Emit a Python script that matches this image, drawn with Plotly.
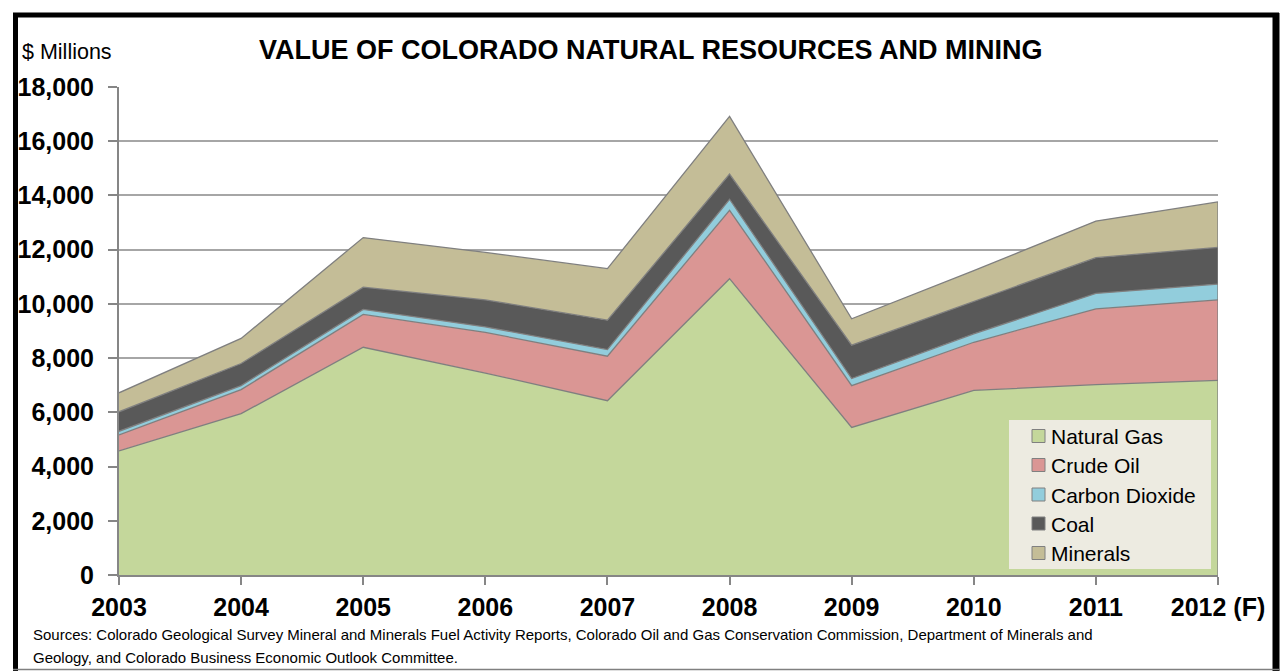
import plotly.graph_objects as go

# Colorado natural resources and mining value, $ millions
years = ["2003", "2004", "2005", "2006", "2007", "2008", "2009", "2010", "2011", "2012 (F)"]
natural_gas = [4580, 5950, 8400, 7450, 6430, 10930, 5445, 6810, 7020, 7180]
crude_oil = [590, 890, 1210, 1500, 1640, 2520, 1540, 1775, 2800, 2970]
carbon_dioxide = [130, 145, 185, 200, 245, 410, 260, 310, 565, 580]
coal = [720, 815, 825, 1000, 1085, 925, 1230, 1205, 1320, 1355]
minerals = [700, 925, 1825, 1750, 1900, 2130, 975, 1125, 1350, 1675]

series_names = ["Natural Gas", "Crude Oil", "Carbon Dioxide", "Coal", "Minerals"]
series_values = [natural_gas, crude_oil, carbon_dioxide, coal, minerals]
series_colors = ["#C4D79B", "#DA9694", "#92CDDC", "#595959", "#C4BD97"]

y_ticks = list(range(0, 18001, 2000))

FONT = "Liberation Sans Narrow, Arial Narrow, Liberation Sans, Arial, sans-serif"

W, H = 1286, 671
L, R, T, B = 119, 68, 87, 96
PW, PH = W - L - R, H - T - B


def px(x):
    return (x - L) / PW


def py(y):
    return (H - B - y) / PH


xs = list(range(len(years)))
fig = go.Figure()

for name, vals, col in zip(series_names, series_values, series_colors):
    fig.add_trace(go.Scatter(
        x=xs, y=vals, name=name, mode="lines", stackgroup="one",
        fillcolor=col, line=dict(color="#7F7F7F", width=1.3),
        showlegend=False, hoverinfo="x+y+name",
    ))

totals = [sum(v) for v in zip(*series_values)]

shapes = []
# right edge of the stacked area
shapes.append(dict(type="line", xref="x", yref="y", x0=xs[-1], x1=xs[-1], y0=0, y1=totals[-1],
                   line=dict(color="#7F7F7F", width=1.3)))

# outer frame
frame_black = "#000000"
shapes.append(dict(type="line", xref="paper", yref="paper", x0=px(13), x1=px(1279), y0=py(15), y1=py(15),
                   line=dict(color=frame_black, width=5)))
shapes.append(dict(type="line", xref="paper", yref="paper", x0=px(15.5), x1=px(15.5), y0=py(13), y1=py(671),
                   line=dict(color=frame_black, width=5)))
shapes.append(dict(type="line", xref="paper", yref="paper", x0=px(1276), x1=px(1276), y0=py(13), y1=py(671),
                   line=dict(color=frame_black, width=7)))
shapes.append(dict(type="line", xref="paper", yref="paper", x0=px(13), x1=px(1279), y0=py(669.5), y1=py(669.5),
                   line=dict(color="#808080", width=1.5)))

# legend box
shapes.append(dict(type="rect", xref="paper", yref="paper", x0=px(1009), x1=px(1211), y0=py(569), y1=py(420),
                   fillcolor="#EDEBE1", line=dict(width=0), layer="above"))

annotations = []
leg_y = [436, 465, 494.5, 523.5, 553]
for name, col, cy in zip(series_names, series_colors, leg_y):
    shapes.append(dict(type="rect", xref="paper", yref="paper", x0=px(1032), x1=px(1045),
                       y0=py(cy + 6.5), y1=py(cy - 6.5), fillcolor=col,
                       line=dict(color="#808080", width=1), layer="above"))
    annotations.append(dict(text=name, xref="paper", yref="paper", x=px(1049), y=py(cy + 0.5),
                            xanchor="left", yanchor="middle", showarrow=False,
                            font=dict(family=FONT, size=21, color="#000000")))

annotations.append(dict(text="<b>VALUE OF COLORADO NATURAL RESOURCES AND MINING</b>", xref="paper", yref="paper",
                        x=px(651), y=py(50), xanchor="center", yanchor="middle", showarrow=False,
                        font=dict(family=FONT, size=27, color="#000000")))
annotations.append(dict(text="$ Millions", xref="paper", yref="paper", x=px(20), y=py(52),
                        xanchor="left", yanchor="middle", showarrow=False,
                        font=dict(family=FONT, size=21.5, color="#000000")))
annotations.append(dict(text="Sources: Colorado Geological Survey Mineral and Minerals Fuel Activity Reports, Colorado Oil and Gas Conservation Commission, Department of Minerals and",
                        xref="paper", yref="paper", x=px(31), y=py(634), xanchor="left", yanchor="middle",
                        showarrow=False, font=dict(family=FONT, size=15, color="#000000")))
annotations.append(dict(text="Geology, and Colorado Business Economic Outlook Committee.",
                        xref="paper", yref="paper", x=px(31), y=py(657), xanchor="left", yanchor="middle",
                        showarrow=False, font=dict(family=FONT, size=15, color="#000000")))

fig.update_layout(
    width=W, height=H,
    margin=dict(l=L, r=R, t=T, b=B, pad=0, autoexpand=False),
    paper_bgcolor="#FFFFFF", plot_bgcolor="#FFFFFF",
    showlegend=False,
    shapes=shapes, annotations=annotations,
    xaxis=dict(
        range=[0, len(years) - 1], tickmode="array", tickvals=xs, ticktext=[f"<b>{y}</b>" for y in years],
        showgrid=False, zeroline=False, showline=True, linecolor="#868686", linewidth=2,
        ticks="outside", ticklen=8, tickwidth=1.5, tickcolor="#868686",
        tickfont=dict(family=FONT, size=25, color="#000000"), ticklabelstandoff=1,
        automargin=False, fixedrange=True,
    ),
    yaxis=dict(
        range=[0, 18000], tickmode="array", tickvals=y_ticks,
        ticktext=[f"<b>{v:,}</b>" for v in y_ticks],
        showgrid=True, gridcolor="#A6A6A6", gridwidth=1.5, zeroline=False,
        showline=True, linecolor="#868686", linewidth=2,
        ticks="outside", ticklen=9, tickwidth=1.5, tickcolor="#868686",
        tickfont=dict(family=FONT, size=25, color="#000000"), ticklabelstandoff=9,
        automargin=False, fixedrange=True,
    ),
)

fig.write_html("out.html")
